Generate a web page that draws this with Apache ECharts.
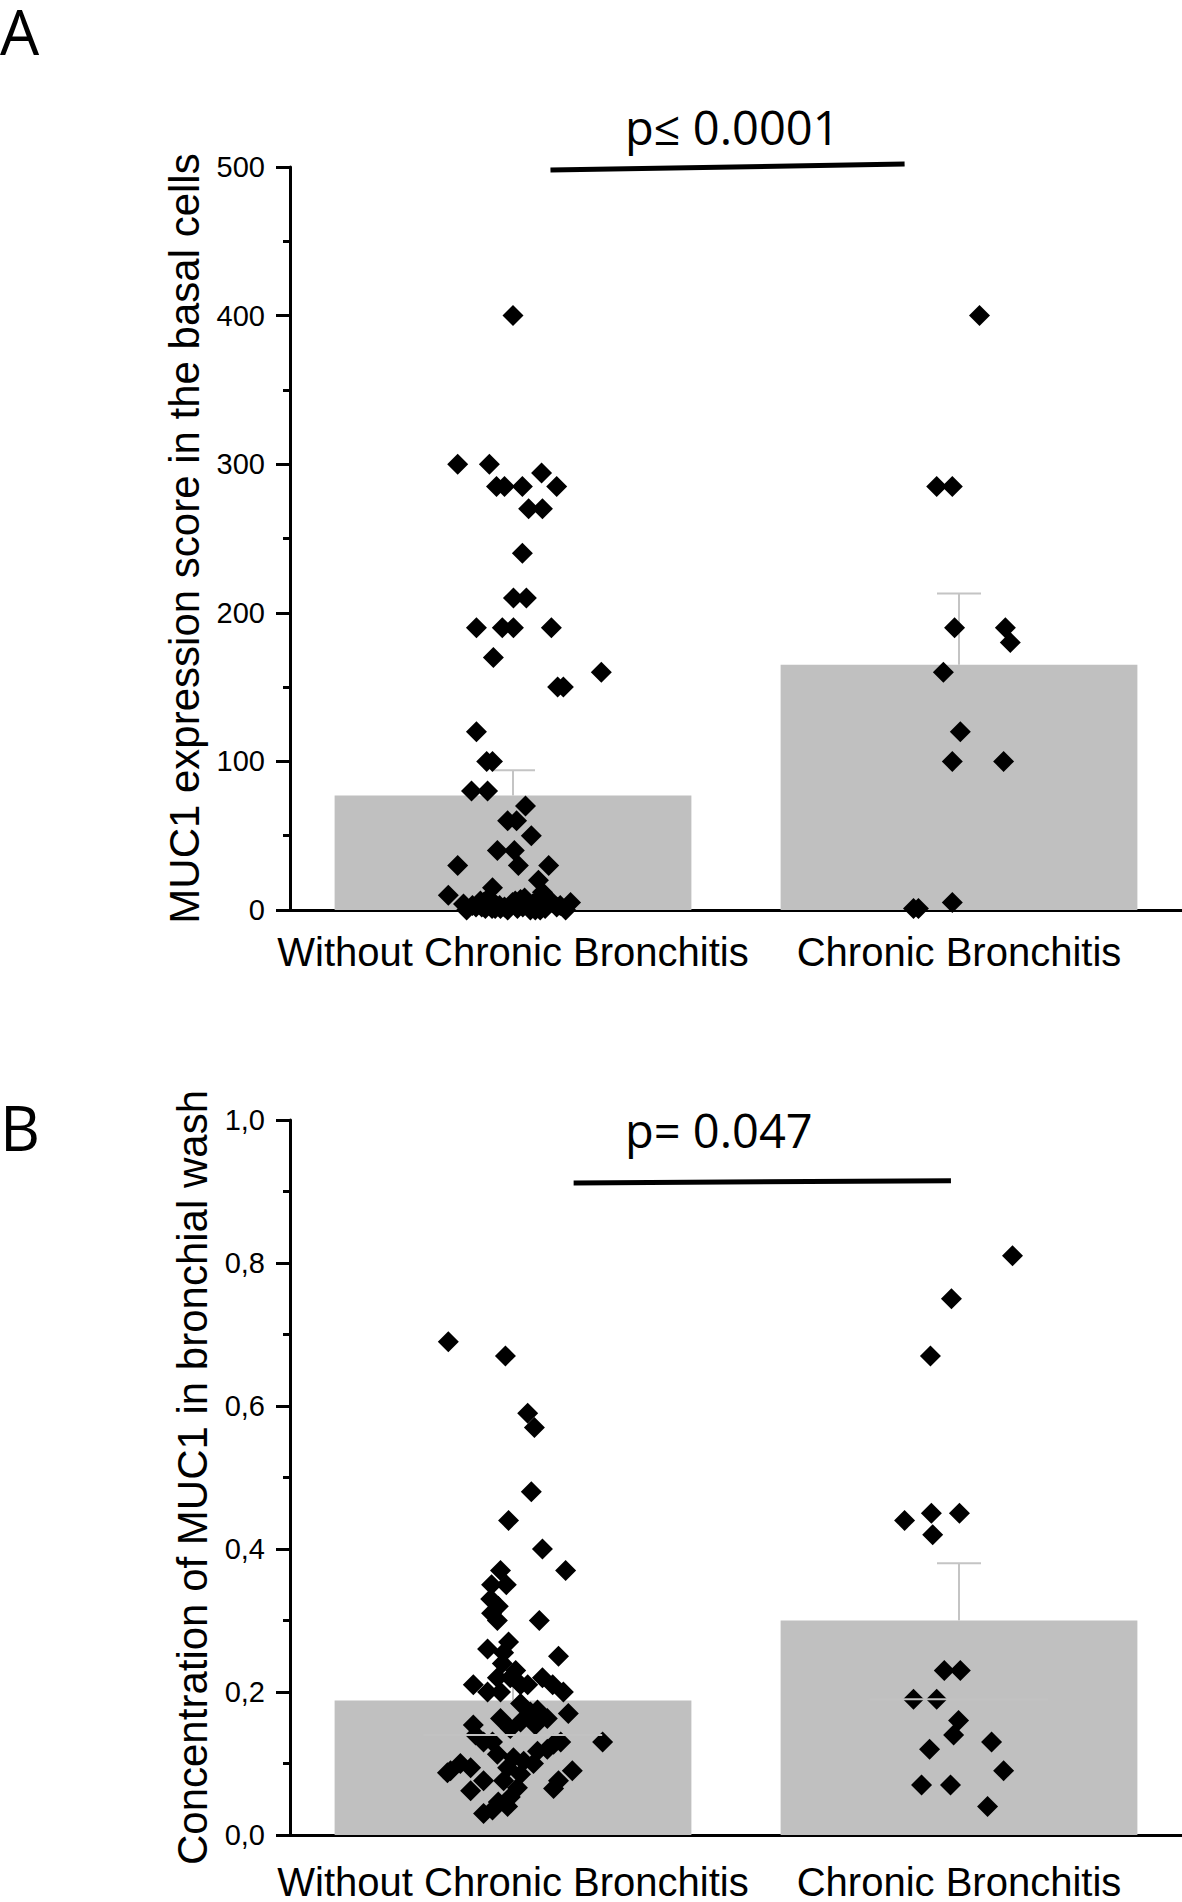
<!DOCTYPE html>
<html>
<head>
<meta charset="utf-8">
<script src="https://cdn.jsdelivr.net/npm/echarts@6/dist/echarts.min.js"></script>
<style>
  html, body { margin: 0; padding: 0; background: #fff; }
  #chart { width: 1182px; height: 1902px; }
</style>
</head>
<body>
<div id="chart"></div>
<script>
// ---------- DATA ----------
const categories = ['Without Chronic Bronchitis', 'Chronic Bronchitis'];

// Panel A: MUC1 expression score in the basal cells
const meanA = [77, 165];
const upperA = [94, 213];
const valuesA1 = [400, 300, 300, 294, 285, 285, 285, 285, 270, 270, 240, 210, 210, 190, 190, 190, 190, 170, 160, 150, 150,
  120, 100, 100, 80, 80, 70, 60, 60, 50, 40, 40, 30, 30, 30, 20, 10, 15, 12, 5,
  4, 3, 6, 8, 3, 2, 5, 7, 3, 6, 4, 2, 1, 0, 1, 1,
  0, 2, 5, 1, 3, 0, 6, 2, 4, 0, 1, 5, 3, 0, 2, 8, 1, 0, 4, 2];
const jitterA1 = [0.00, -0.124, -0.053, 0.064, -0.037, -0.019, 0.021, 0.098, 0.035, 0.066, 0.021, 0.001, 0.030, -0.082, -0.024, 0.001, 0.086, -0.044, 0.198, 0.100, 0.113,
  -0.082, -0.059, -0.046, -0.093, -0.057, 0.028, -0.012, 0.008, 0.041, -0.035, 0.003, 0.012, -0.124, 0.080, 0.057, -0.145, -0.046, 0.066, 0.129,
  -0.111, -0.091, -0.073, -0.055, -0.037, -0.019, -0.001, 0.017, 0.035, 0.053, 0.080, 0.098, -0.028, 0.039, -0.062, 0.010,
  -0.104, -0.083, -0.066, -0.047, -0.030, -0.012, 0.005, 0.022, 0.044, 0.061, 0.072, 0.088, 0.106, 0.118, -0.008, 0.026, -0.040, 0.050, 0.014, -0.070];
const valuesA2 = [400, 285, 285, 190, 190, 180, 160, 120, 100, 100, 1, 1, 5];
const jitterA2 = [0.046, -0.050, -0.015, -0.010, 0.104, 0.115, -0.035, 0.003, -0.015, 0.100, -0.102, -0.091, -0.015];

// Panel B: Concentration of MUC1 in bronchial wash
const meanB = [0.188, 0.30];
const upperB = [0.215, 0.38];
const medianB = [0.14, 0.19];
const valuesB1 = [0.69, 0.67, 0.59, 0.57, 0.48, 0.44, 0.40, 0.37, 0.37, 0.35, 0.35, 0.33, 0.32, 0.31, 0.30, 0.30,
  0.27, 0.26, 0.255, 0.25, 0.24, 0.23, 0.22, 0.21, 0.20, 0.20, 0.21, 0.21, 0.22, 0.21, 0.20, 0.22,
  0.184, 0.175, 0.163, 0.17, 0.163, 0.154, 0.14, 0.13, 0.13, 0.13, 0.09, 0.10, 0.094, 0.087,
  0.113, 0.108, 0.085, 0.076, 0.076, 0.062, 0.065, 0.09, 0.076, 0.053, 0.03, 0.035, 0.04, 0.046,
  0.117, 0.12, 0.127, 0.103, 0.10, 0.094, 0.066, 0.172, 0.154, 0.158, 0.149, 0.13];
const jitterB1 = [-0.145, -0.017, 0.033, 0.048, 0.041, -0.010, 0.066, 0.118, -0.028, -0.015, -0.048, -0.050, -0.033, -0.048, -0.035, 0.059,
  -0.010, -0.057, -0.021, 0.102, -0.024, 0.006, -0.035, -0.089, -0.057, -0.028, 0.017, 0.033, 0.066, 0.089, 0.113, -0.006,
  0.017, 0.055, 0.077, 0.124, -0.028, -0.089, -0.084, -0.046, 0.107, 0.201, -0.140, -0.118, -0.095, -0.147,
  -0.035, 0.001, 0.017, -0.021, -0.066, -0.095, 0.091, 0.133, 0.102, -0.006, -0.066, -0.046, -0.012, -0.033,
  0.055, 0.077, 0.091, 0.024, 0.046, -0.012, 0.010, 0.039, 0.050, 0.017, -0.006, -0.066];
const valuesB2 = [0.81, 0.75, 0.67, 0.44, 0.45, 0.45, 0.42, 0.23, 0.23, 0.19, 0.19, 0.16, 0.14, 0.13, 0.12, 0.09, 0.07, 0.07, 0.04];
const jitterB2 = [0.120, -0.017, -0.064, -0.122, -0.062, 0.001, -0.059, -0.033, 0.003, -0.102, -0.050, -0.001, -0.012, 0.073, -0.066, 0.100, -0.084, -0.019, 0.064];

// significance bars (x in category units, y in data units)
const sigA = [[0.084, 498], [0.878, 502]];
const sigB = [[0.136, 0.912], [0.982, 0.915]];
const pTextA = 'p\u2264 0.0001';
const pTextB = 'p= 0.047';

// ---------- BUILD ----------
const pts = (jit, vals, cat) => vals.map((v, i) => [cat + jit[i], v]);
const AX = 'Liberation Sans, Arial, sans-serif';

function errRender(params, api) {
  const x = api.value(0);
  const m = api.coord([x, api.value(1)]);
  const t = api.coord([x, api.value(2)]);
  const st = { stroke: '#c4c4c4', lineWidth: 2 };
  return { type: 'group', children: [
    { type: 'line', shape: { x1: m[0], y1: m[1], x2: t[0], y2: t[1] }, style: st },
    { type: 'line', shape: { x1: t[0] - 22, y1: t[1], x2: t[0] + 22, y2: t[1] }, style: st }
  ]};
}
function medRender(params, api) {
  const x = api.value(0);
  const a = api.coord([x - 0.2, api.value(1)]);
  const b = api.coord([x + 0.2, api.value(1)]);
  return { type: 'line', shape: { x1: a[0], y1: a[1], x2: b[0], y2: b[1] }, style: { stroke: '#c2c2c2', lineWidth: 2 } };
}

function catAxis(grid, margin) {
  return {
    type: 'category', gridIndex: grid, data: categories,
    axisLine: { onZero: false, lineStyle: { color: '#000', width: 3 } },
    axisTick: { alignWithLabel: true, length: 16, lineStyle: { color: '#000', width: 3 } },
    axisLabel: { interval: 0, fontSize: 40, color: '#000', margin: margin, fontFamily: AX },
    splitLine: { show: false }
  };
}
function valXAxis(grid) {
  return { type: 'value', gridIndex: grid, min: -0.5, max: 1.5, show: false };
}
function yAx(grid, max, interval, name, gap, fmt) {
  return {
    type: 'value', gridIndex: grid, min: 0, max: max, interval: interval,
    name: name, nameLocation: 'middle', nameGap: gap,
    nameTextStyle: { fontSize: 42, color: '#000', fontFamily: AX },
    axisLine: { show: true, onZero: false, lineStyle: { color: '#000', width: 3 } },
    axisTick: { show: true, length: 14, lineStyle: { color: '#000', width: 3 } },
    minorTick: { show: true, splitNumber: 2, length: 7, lineStyle: { color: '#000', width: 3 } },
    axisLabel: { fontSize: 29, color: '#000', margin: 25, fontFamily: AX, formatter: fmt },
    splitLine: { show: false }
  };
}

const option = {
  animation: false,
  backgroundColor: '#fff',
  grid: [
    { left: 290, top: 167, width: 892, height: 743 },
    { left: 290, top: 1120, width: 892, height: 725 }
  ],
  xAxis: [catAxis(0, 22), valXAxis(0), catAxis(1, 27), valXAxis(1)],
  yAxis: [
    yAx(0, 500, 100, 'MUC1 expression score in the basal cells', 80, v => String(v)),
    yAx(1, 1, 0.2, 'Concentration of MUC1 in bronchial wash', 73, v => v.toFixed(1).replace('.', ','))
  ],
  graphic: [
    { type: 'text', left: 0, top: 0, style: { text: 'A', font: '62px "Open Sans"', fill: '#000' } },
    { type: 'text', left: 0, top: 1096, style: { text: 'B', font: '62px "Open Sans"', fill: '#000' } },
    { type: 'text', x: 625, y: 127, style: { text: pTextA, font: '47px "Open Sans"', fill: '#000', textVerticalAlign: 'middle' } },
    { type: 'text', x: 625, y: 1130, style: { text: pTextB, font: '47px "Open Sans"', fill: '#000', textVerticalAlign: 'middle' } }
  ],
  series: [
    // Panel A
    { type: 'bar', xAxisIndex: 0, yAxisIndex: 0, data: meanA, barWidth: '80%', itemStyle: { color: '#c0c0c0' }, z: 1 },
    { type: 'custom', xAxisIndex: 1, yAxisIndex: 0, renderItem: errRender,
      data: meanA.map((m, i) => [i, m, upperA[i]]), z: 2 },
    { type: 'scatter', xAxisIndex: 1, yAxisIndex: 0, symbol: 'diamond', symbolSize: 21,
      itemStyle: { color: '#000', opacity: 1 }, data: pts(jitterA1, valuesA1, 0).concat(pts(jitterA2, valuesA2, 1)), z: 3 },
    { type: 'line', xAxisIndex: 1, yAxisIndex: 0, data: sigA, symbol: 'none', clip: false,
      lineStyle: { color: '#000', width: 5 }, z: 5 },
    // Panel B
    { type: 'bar', xAxisIndex: 2, yAxisIndex: 1, data: meanB, barWidth: '80%', itemStyle: { color: '#c0c0c0' }, z: 1 },
    { type: 'custom', xAxisIndex: 3, yAxisIndex: 1, renderItem: errRender,
      data: meanB.map((m, i) => [i, m, upperB[i]]), z: 2 },
    { type: 'scatter', xAxisIndex: 3, yAxisIndex: 1, symbol: 'diamond', symbolSize: 21,
      itemStyle: { color: '#000', opacity: 1 }, data: pts(jitterB1, valuesB1, 0).concat(pts(jitterB2, valuesB2, 1)), z: 3 },
    { type: 'custom', xAxisIndex: 3, yAxisIndex: 1, renderItem: medRender,
      data: medianB.map((m, i) => [i, m]), z: 4 },
    { type: 'line', xAxisIndex: 3, yAxisIndex: 1, data: sigB, symbol: 'none', clip: false,
      lineStyle: { color: '#000', width: 5 }, z: 5 }
  ]
};

const chart = echarts.init(document.getElementById('chart'), null, { renderer: 'svg', width: 1182, height: 1902 });
chart.setOption(option);
</script>
</body>
</html>
